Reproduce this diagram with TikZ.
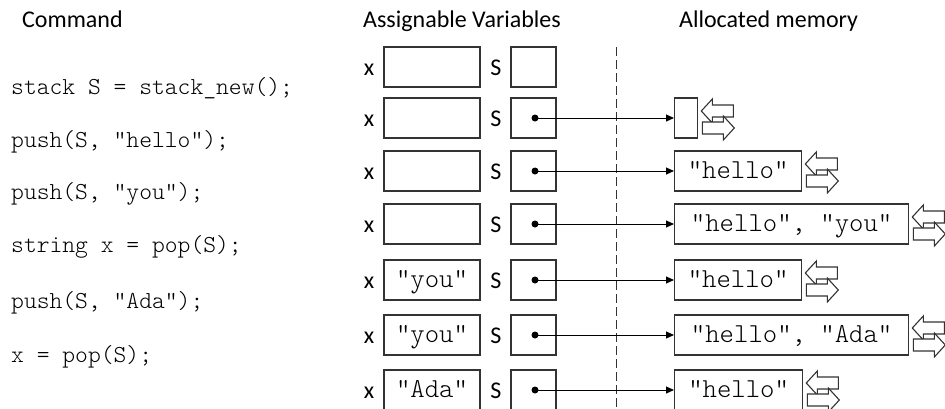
\documentclass[tikz,border=0pt]{standalone}
\usepackage{fontspec}
\setmainfont{Carlito}
\setmonofont{lmmonolt10-regular}[Extension=.otf]
\usetikzlibrary{arrows.meta}
\definecolor{ink}{HTML}{333333}
\tikzset{
  hdr/.style={anchor=base west, inner sep=0pt, font=\fontsize{24}{28}\selectfont},
  code/.style={anchor=base west, inner sep=0pt, font=\ttfamily\fontsize{24.4}{28}\selectfont},
  lbl/.style={anchor=base, inner sep=0pt, font=\fontsize{24}{28}\selectfont},
  cell/.style={draw=ink, line width=1.3pt, inner sep=0pt, minimum height=40pt,
     text height=16pt, text depth=2pt, font=\ttfamily\fontsize{27.4}{30}\selectfont},
  varbox/.style={cell, minimum width=96pt},
  sbox/.style={cell, minimum width=45pt},
  membox/.style={cell, anchor=west},
  dotnode/.style={circle, fill=black, inner sep=0pt, minimum size=7pt},
  ptr/.style={line width=1pt, -{Triangle[length=8pt,width=7pt]}},
  iconline/.style={draw=ink, line width=1.1pt, fill=white, line join=miter},
  swapicon/.pic={
    \draw[iconline] (3,-7) -- (14,-19) -- (14,-13) -- (35,-13) -- (35,-1) -- (14,-1) -- (14,5) -- cycle;
    \draw[iconline] (36,10) -- (25,-2) -- (25,4) -- (4,4) -- (4,16) -- (25,16) -- (25,22) -- cycle;
  }
}
\begin{document}
\begin{tikzpicture}[x=1pt,y=-1pt]
\clip (0,0) rectangle (945,408);
\fill[white] (0,0) rectangle (945,408);

% headers
\node[hdr] (hcmd) at (22,27) {Command};
\node[hdr] (hvar) at (363,27) {Assignable Variables};
\node[hdr] (hmem) at (679,27) {Allocated memory};

% commands
\node[code] (c1) at (11,94) {stack S = stack\_new();};
\node[code] (c2) at (11,147) {push(S, "hello");};
\node[code] (c3) at (11,199) {push(S, "you");};
\node[code] (c4) at (11,252) {string x = pop(S);};
\node[code] (c5) at (11,308) {push(S, "Ada");};
\node[code] (c6) at (11,362) {x = pop(S);};

% divider
\coordinate (dtop) at (616,47);
\coordinate (dbot) at (616,408);
\draw[ink, line width=1pt, dash pattern=on 9pt off 4pt] (dtop) -- (dbot);

% rows
\foreach \i/\y/\xv in {1/67/{}, 2/118/{}, 3/171/{}, 4/224/{}, 5/280/{"you"}, 6/335/{"you"}, 7/390/{"Ada"}}{
  \node[lbl] (xl\i) at (369,\y+8) {x};
  \node[varbox] (xb\i) at (432,\y) {\xv};
  \node[lbl] (sl\i) at (496,\y+8) {S};
  \node[sbox] (sb\i) at (533.5,\y) {};
}

\foreach \i/\y/\w/\txt in {2/118/23/{}, 3/171/127/{"hello"}, 4/224/234/{"hello", "you"},
    5/280/127/{"hello"}, 6/335/234/{"hello", "Ada"}, 7/390/128/{"hello"}}{
  \node[dotnode] (d\i) at (535,\y) {};
  \node[membox, minimum width=\w pt] (m\i) at (674,\y) {\txt};
  \draw[ptr] (d\i.center) -- (m\i.west);
  \pic at (m\i.east) {swapicon};
}
\end{tikzpicture}
\end{document}
